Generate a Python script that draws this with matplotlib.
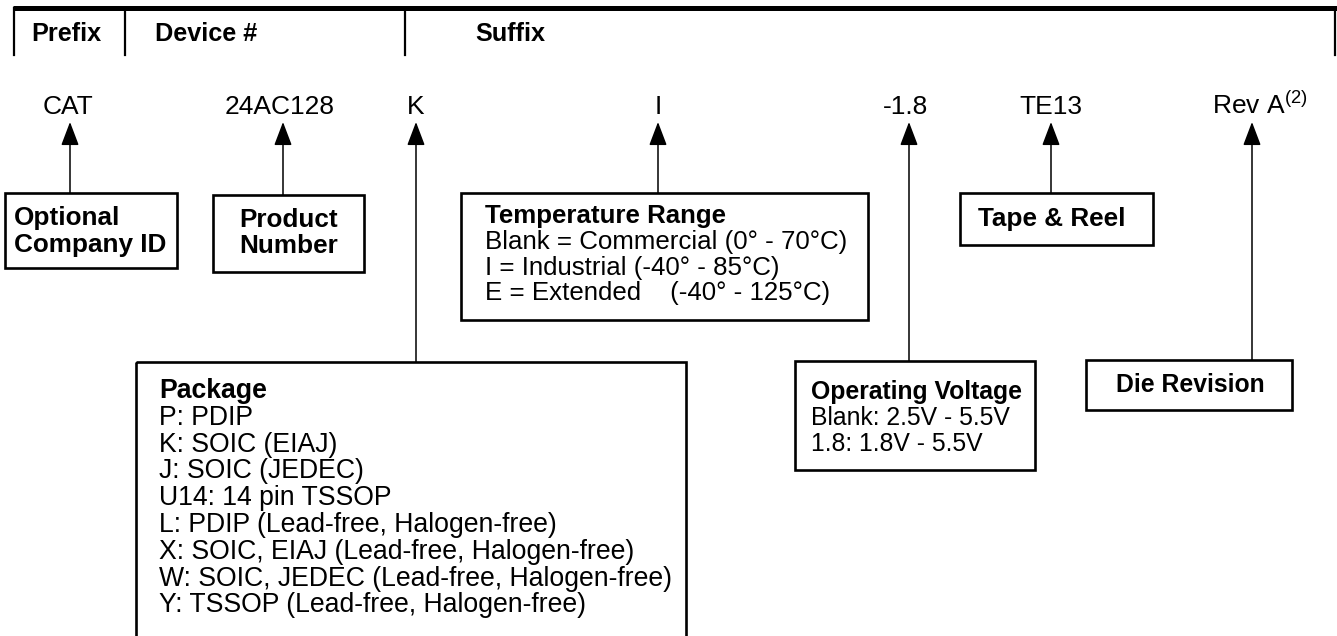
import matplotlib.pyplot as plt
from matplotlib.patches import Rectangle

plt.rcParams['font.family'] = ['Liberation Sans', 'DejaVu Sans']
plt.rcParams['mathtext.fontset'] = 'custom'
plt.rcParams['mathtext.rm'] = 'Liberation Sans'

# header columns
headers = ['Prefix', 'Device #', 'Suffix']
header_x = [31, 155, 475]
dividers = [14, 125, 405, 1335]

# code fields shown on the top line
codes = ['CAT', '24AC128', 'K', 'I', '-1.8', 'TE13', 'Rev A$^{(2)}$']
code_x = [68, 280, 416, 658, 906, 1051, 1212]
code_ha = ['center'] * 6 + ['left']
arrow_x = [70, 283, 416, 658, 909, 1051, 1252]

# boxes: title, body lines
titles = ['Optional\nCompany ID', 'Product\nNumber', 'Temperature Range', 'Package',
          'Operating Voltage', 'Tape & Reel', 'Die Revision']
bodies = [
    [],
    [],
    ['Blank = Commercial (0° - 70°C)', 'I = Industrial (-40° - 85°C)',
     'E = Extended    (-40° - 125°C)'],
    ['P: PDIP', 'K: SOIC (EIAJ)', 'J: SOIC (JEDEC)', 'U14: 14 pin TSSOP',
     'L: PDIP (Lead-free, Halogen-free)', 'X: SOIC, EIAJ (Lead-free, Halogen-free)',
     'W: SOIC, JEDEC (Lead-free, Halogen-free)', 'Y: TSSOP (Lead-free, Halogen-free)'],
    ['Blank: 2.5V - 5.5V', '1.8: 1.8V - 5.5V'],
    [],
    [],
]
# box geometry (left, top, right, bottom), text x, alignment, which code it points to
boxes = [(5, 193, 177, 268), (213, 195, 364, 272), (461, 193, 868, 320),
         (136, 362, 686, 640), (795, 361, 1035, 470), (960, 193, 1153, 245),
         (1086, 360, 1292, 410)]
text_x = [14, 289, 485, 159, 811, 1052, 1190]
align = ['left', 'center', 'left', 'left', 'left', 'center', 'center']
text_y0 = [218, 220, 216, 391, 392, 219, 385]
box_fs = [18.8, 18.8, 18.6, 19.2, 17.8, 18.8, 17.8]
box_lh = [27, 26, 25.8, 26.8, 25.8, 26, 26]
box_code = [0, 1, 3, 2, 4, 5, 6]

fig = plt.figure(figsize=(13.37, 6.36), dpi=100)
ax = fig.add_axes([0, 0, 1, 1])
ax.set_xlim(0, 1337)
ax.set_ylim(636, 0)
ax.axis('off')

# header rule and dividers
ax.plot([13, 1337], [8, 8], color='black', lw=3.6, solid_capstyle='butt')
for x in dividers:
    ax.plot([x, x], [8, 55], color='black', lw=1.6)
for h, x in zip(headers, header_x):
    ax.text(x, 34, h, fontsize=18.2, fontweight='bold', va='center', ha='left')

# codes
for c, x, ha in zip(codes, code_x, code_ha):
    ax.text(x, 114, c, fontsize=19, ha=ha, va='baseline')

# boxes and arrows
for i, (l, t, r, b) in enumerate(boxes):
    ax.add_patch(Rectangle((l, t), r - l, b - t, fill=False, ec='black', lw=1.9))
    cx = arrow_x[box_code[i]]
    ax.annotate('', xy=(cx, 122), xytext=(cx, t),
                arrowprops=dict(arrowstyle='-|>,head_length=1.45,head_width=0.55',
                                color='black', lw=1.1, shrinkA=0, shrinkB=0))
    y = text_y0[i]
    for line in titles[i].split('\n'):
        ax.text(text_x[i], y, line, fontsize=box_fs[i], fontweight='bold',
                ha=align[i], va='center')
        y += box_lh[i]
    for line in bodies[i]:
        ax.text(text_x[i], y, line, fontsize=box_fs[i], ha=align[i], va='center')
        y += box_lh[i]

fig.savefig('out.png', dpi=100)
